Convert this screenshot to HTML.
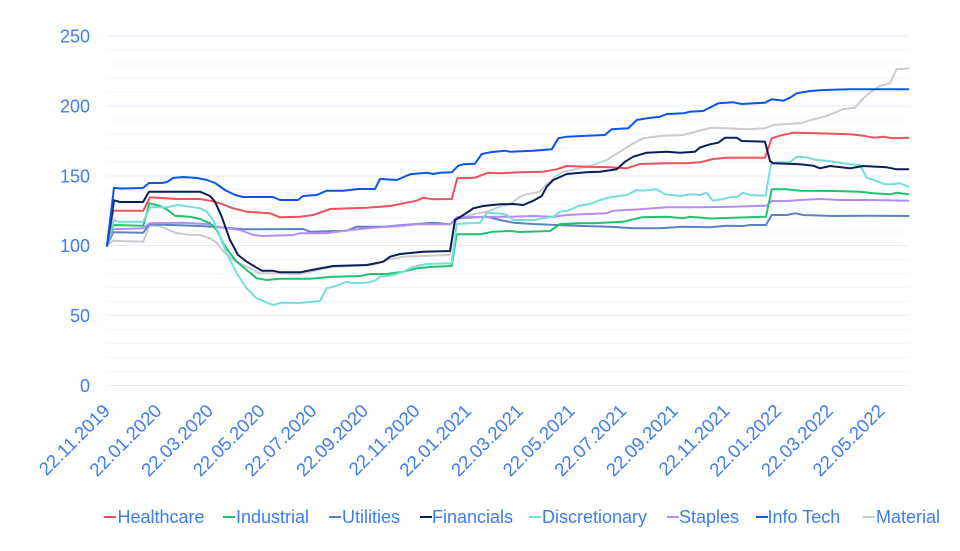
<!DOCTYPE html>
<html>
<head>
<meta charset="utf-8">
<style>
  html,body{margin:0;padding:0;background:#fff;}
  body{width:960px;height:551px;overflow:hidden;}
  svg{display:block;}
  text{font-family:"Liberation Sans",sans-serif;fill:#3c7df0;}
  .s{fill:none;stroke-width:2;stroke-linejoin:round;stroke-linecap:round;}
</style>
</head>
<body>
<svg width="960" height="551" viewBox="0 0 960 551" xmlns="http://www.w3.org/2000/svg">
  <!-- minor gridlines -->
  <g stroke="#f1f5fd" stroke-width="1">
    <line x1="107" x2="909" y1="50" y2="50"/><line x1="107" x2="909" y1="64" y2="64"/><line x1="107" x2="909" y1="78" y2="78"/><line x1="107" x2="909" y1="92" y2="92"/>
    <line x1="107" x2="909" y1="120" y2="120"/><line x1="107" x2="909" y1="134" y2="134"/><line x1="107" x2="909" y1="148" y2="148"/><line x1="107" x2="909" y1="162" y2="162"/>
    <line x1="107" x2="909" y1="190" y2="190"/><line x1="107" x2="909" y1="204" y2="204"/><line x1="107" x2="909" y1="218" y2="218"/><line x1="107" x2="909" y1="232" y2="232"/>
    <line x1="107" x2="909" y1="259.5" y2="259.5"/><line x1="107" x2="909" y1="273.5" y2="273.5"/><line x1="107" x2="909" y1="287.5" y2="287.5"/><line x1="107" x2="909" y1="301.5" y2="301.5"/>
    <line x1="107" x2="909" y1="329.5" y2="329.5"/><line x1="107" x2="909" y1="343.5" y2="343.5"/><line x1="107" x2="909" y1="357.5" y2="357.5"/><line x1="107" x2="909" y1="371.5" y2="371.5"/>
  </g>
  <!-- major gridlines -->
  <g stroke="#e3ebfb" stroke-width="1">
    <line x1="107" x2="909" y1="36" y2="36"/>
    <line x1="107" x2="909" y1="106" y2="106"/>
    <line x1="107" x2="909" y1="176" y2="176"/>
    <line x1="107" x2="909" y1="245.5" y2="245.5"/>
    <line x1="107" x2="909" y1="315.5" y2="315.5"/>
    <line x1="107" x2="909" y1="385.5" y2="385.5"/>
  </g>
  <!-- y labels -->
  <g font-size="18" text-anchor="end">
    <text x="90" y="42.3">250</text>
    <text x="90" y="112.3">200</text>
    <text x="90" y="182.3">150</text>
    <text x="90" y="251.8">100</text>
    <text x="90" y="321.8">50</text>
    <text x="90" y="391.8">0</text>
  </g>
  <!-- x labels -->
  <g font-size="18.5" text-anchor="end">
    <text transform="translate(111,412) rotate(-45)">22.11.2019</text>
    <text transform="translate(162.65,412) rotate(-45)">22.01.2020</text>
    <text transform="translate(214.3,412) rotate(-45)">22.03.2020</text>
    <text transform="translate(265.95,412) rotate(-45)">22.05.2020</text>
    <text transform="translate(317.6,412) rotate(-45)">22.07.2020</text>
    <text transform="translate(369.25,412) rotate(-45)">22.09.2020</text>
    <text transform="translate(420.9,412) rotate(-45)">22.11.2020</text>
    <text transform="translate(472.55,412) rotate(-45)">22.01.2021</text>
    <text transform="translate(524.2,412) rotate(-45)">22.03.2021</text>
    <text transform="translate(575.85,412) rotate(-45)">22.05.2021</text>
    <text transform="translate(627.5,412) rotate(-45)">22.07.2021</text>
    <text transform="translate(679.15,412) rotate(-45)">22.09.2021</text>
    <text transform="translate(730.8,412) rotate(-45)">22.11.2021</text>
    <text transform="translate(782.45,412) rotate(-45)">22.01.2022</text>
    <text transform="translate(834.1,412) rotate(-45)">22.03.2022</text>
    <text transform="translate(885.75,412) rotate(-45)">22.05.2022</text>
  </g>

  <!-- series -->
  <!-- Material -->
  <polyline class="s" stroke="#cbcbcf" points="107,245.7 113.3,240.7 143.3,241.7 149.3,226 160,226 175,232.7 190,235 200,235 210,238.3 216.7,242.7 225,253.3 233.3,260 246.7,266.7 260,273.3 273.3,273.3 300,274 333.3,266.7 373.3,265 386.7,260 403.3,256.7 450,255 454,226.7 456.7,219.3 470,215 486.7,211.7 500,206.7 510,204 520,196.7 526.7,194.3 540,191.7 546.7,184 555,176.7 563.3,171.7 580,168.3 593.3,165 606.7,160 620,151.7 633.3,143.3 643.3,138.3 660,136 683.3,135 700,130.5 711.7,127.7 726.7,128.3 746.7,129.3 765,128.3 773.3,125 786.7,124 800,123.3 813.3,119.3 825,116.7 833.3,113.3 843.3,109 855,107.7 863.3,98.3 873.3,90 880,86 890,83.3 896.7,69 903.3,69 908.3,68.3"/>
  <!-- Utilities -->
  <polyline class="s" stroke="#5a82c4" points="107,245.7 113.3,232.3 143.3,232.7 149.3,224.3 200,226 220,227.3 243.3,229.3 303.3,229 310,231.7 346.7,230.7 356.7,226.7 383.3,226.7 403.3,225 433.3,222.7 450,224.3 456.7,218.3 486.7,216.7 500,220 513.3,222.7 533.3,224 556.7,225 583.3,226 610,226.7 633.3,228.3 660,228.3 683.3,226.7 710,227.3 726.7,225.7 743.3,226 750,225 766,225 771.7,215 786.7,215 795,213.3 803.3,215 833.3,216 866.7,215.7 908.3,216"/>
  <!-- Staples -->
  <polyline class="s" stroke="#b68cf4" points="107,245.7 113.3,229.3 143.3,228.3 149.3,223.3 183.3,222.7 210,224.3 220,227.3 240,230 253.3,235 263.3,236 293.3,235 300,233.3 326.7,233.3 350,230 373.3,227.7 400,226 416.7,224.3 450,224.3 456.7,217.3 510,216.7 533.3,216 553.3,216.7 566.7,215 586.7,214 606.7,213.3 613.3,210.7 640,209.3 666.7,207.3 700,207.3 733.3,206.7 766.7,205.7 771.7,201 786.7,201 800,200 820,199 840,200 866.7,200 908.3,200.7"/>
  <!-- Industrial -->
  <polyline class="s" stroke="#1ec46e" points="107,245.7 113.3,225 143.3,225.7 149.3,203.3 160,206 166.7,209.3 175,215.7 190,216.7 200,219 210,223.3 216.7,230 223.3,243.3 230,253.3 236.7,261.7 246.7,270 256.7,278.3 266.7,280 280,278.7 310,278.7 333.3,276.7 360,276 370,274 386.7,274 403.3,271.7 416.7,268.3 433.3,266.7 451.7,266 456.7,234.3 480,234.3 493.3,231.7 510,231 520,232 550,231 560,224 576.7,223.3 593.3,223.3 623.3,221.7 633.3,219.3 641.7,217.3 666.7,216.7 683.3,218.3 690,216.7 710,218.5 733.3,217.7 766,216.7 771.7,189.3 786.7,189.3 800,190.7 833.3,191 860,191.7 873.3,193.3 890,194.3 896.7,192.7 908.3,194.3"/>
  <!-- Discretionary -->
  <polyline class="s" stroke="#74dfd9" points="107,245.7 114,220 118,221.7 143.3,221.7 150,207.3 166.7,207.3 178.3,205 190,206.7 200,208.3 206.7,211.7 213.3,220 220,236.7 228.3,256.7 236.7,273.3 246.7,288.3 256.7,298.3 273.3,305 281.7,302.7 300,303 320,301 326.7,288.3 336.7,285.7 346.7,281.7 353.3,283.3 366.7,282.7 375,280.7 380,276.7 393.3,275 403.3,271.7 413.3,266.7 426.7,264 451.7,263.3 456.7,224 480,222.7 486.7,212.7 500,213.5 506.7,215 513.3,220 533.3,220 553.3,216.7 560,211.7 570,210 578.3,206 590,204 600,200 610,197.3 626.7,195 636.7,190 643.3,190.7 656.7,189.3 665,194.3 680,196 690,194.3 700,195 706.7,192.7 712.7,200.7 723.3,199 731.7,196.7 736.7,197.3 742.7,192.7 750,195 765.7,195.7 771,164 776.7,162.3 790,162.3 796.7,156.7 806.7,157.3 816.7,160 826.7,160.7 840,162.7 850,164.3 860,165 866.7,177.7 876.7,181 885,184.3 893.3,184.3 900,183.3 908.3,186.7"/>
  <!-- Healthcare -->
  <polyline class="s" stroke="#f0505a" points="107,245.7 113.3,210.7 143.3,210.7 150,197.3 176.7,199 200,199 210,200.7 220,203.3 233,208.3 246.7,211.7 270,213.3 280,217.3 300,216.7 313.3,215 330,209 366.7,207.7 390,206 403.3,203.3 416.7,200.7 423.3,197.7 433.3,199.3 451.7,199 457.3,178.3 475,177.7 488.3,172.7 500,173.3 520,172.3 543.3,171.7 556.7,169.3 566.7,166 586.7,166.7 610,167.3 626.7,168.3 640,164 666.7,163.3 686.7,163.3 700,162.3 713.3,159 726.7,157.7 765,157.7 771.7,138.3 780,135.7 793.3,132.7 816.7,133.3 850,134.3 863.3,135.7 873.3,137.7 883.3,136.7 893.3,138.3 908.3,137.7"/>
  <!-- Financials -->
  <polyline class="s" stroke="#0b1e5b" points="107,245.7 114,200.3 120,202 143,202 149,191.7 200,191.7 210,196 215,201.7 221.7,216.7 230,240 238,255 246.7,261.7 255,266.7 261.7,270.7 273,270.7 280,272.3 300,272.3 316.7,269 333.3,266 366.7,265 383.3,261.7 390,256.7 400,254 423.3,251.7 450,251 455,220 465,214 473.3,208.3 483.3,206 500,204.3 513.3,204 523.3,205 533.3,200.7 541.7,196 546.7,186.7 553.3,180 566.7,174 586.7,172.3 600,171.7 616.7,169.3 625,161.7 633.3,156.7 646.7,152.7 666.7,151.7 680,152.7 695,151.7 700,147.5 710,144.3 718.3,142.7 725,137.7 736.7,137.7 741.7,141 765,141.7 770,161 773.3,163.3 800,164.3 813.3,165.7 820,168.3 830,166 850,168.3 863.3,166 886.7,167.3 896.7,169.3 908.3,169.3"/>
  <!-- Info Tech -->
  <polyline class="s" stroke="#0a55f0" points="107,245.7 114,187.7 120,188.5 143,188 149,183 162,183 167,182 173,178 183,177 197,178 207,180 215,183 225,190 235,195 243,197 273,197 280,200 298,200 303,196 316.7,195 326.7,190.7 343.3,190.7 358.3,189 375,189 380,179 396.7,180 410,174.3 426.7,172.7 433.3,174 440,172.7 451.7,172.3 458.3,165.7 463.3,164.3 475,163.7 481.7,154 490,152.3 505,150.7 510,151.7 533.3,150.7 551.7,149.3 558.3,138.3 566.7,136.7 586.7,135.7 605,135 611.7,129.3 628.3,128.3 636.7,120 646.7,118.3 660,116.7 666.7,114 683.3,113.3 690,111.7 703,111 708,108.5 718.3,103.3 733.3,102.3 741.7,104 765,102.7 771.7,99.3 783.3,100.7 790,97.7 796.7,93.3 810,91 823.3,90 850,89.3 908.3,89.3"/>

  <!-- legend -->
  <g stroke-width="2">
    <line x1="104" x2="116" y1="517" y2="517" stroke="#f0505a"/>
    <line x1="223" x2="235" y1="517" y2="517" stroke="#1ec46e"/>
    <line x1="329" x2="341" y1="517" y2="517" stroke="#5a82c4"/>
    <line x1="420" x2="432" y1="517" y2="517" stroke="#0b1e5b"/>
    <line x1="529" x2="541" y1="517" y2="517" stroke="#74dfd9"/>
    <line x1="667" x2="679" y1="517" y2="517" stroke="#b68cf4"/>
    <line x1="756" x2="768" y1="517" y2="517" stroke="#0a55f0"/>
    <line x1="863" x2="875" y1="517" y2="517" stroke="#cbcbcf"/>
  </g>
  <g font-size="18">
    <text x="117.5" y="523">Healthcare</text>
    <text x="236" y="523">Industrial</text>
    <text x="342" y="523">Utilities</text>
    <text x="432" y="523">Financials</text>
    <text x="542" y="523">Discretionary</text>
    <text x="679" y="523">Staples</text>
    <text x="767.5" y="523">Info Tech</text>
    <text x="876" y="523">Material</text>
  </g>
</svg>
</body>
</html>
